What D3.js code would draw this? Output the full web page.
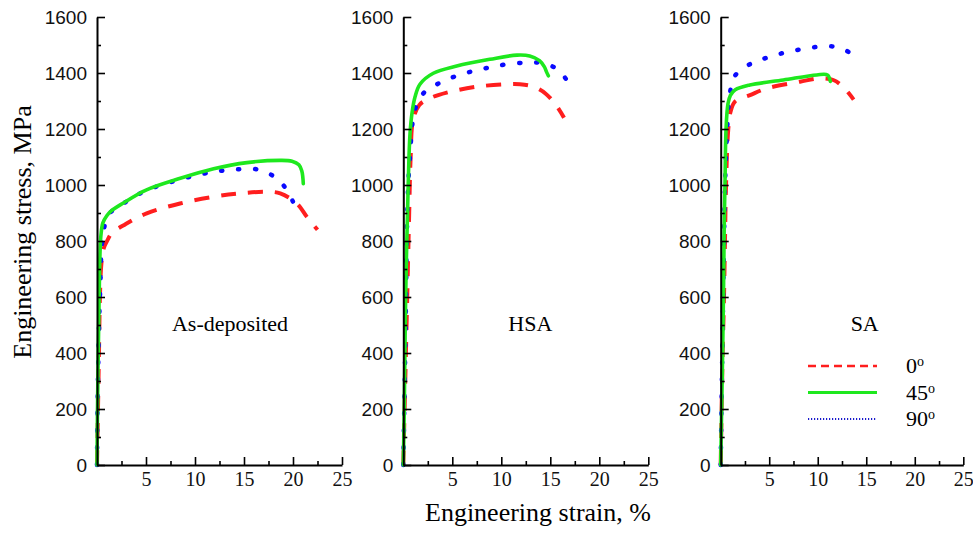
<!DOCTYPE html>
<html>
<head>
<meta charset="utf-8">
<script src="https://cdn.jsdelivr.net/npm/d3@7"></script>
<style>
  body { margin: 0; background: #fff; }
  svg { display: block; }
</style>
</head>
<body>
<div id="chart"></div>
<script>
// panel and series names
var panels = ["As-deposited", "HSA", "SA"];
var orientations = ["0", "45", "90"];

// tick values
var yMajorTicks = [0, 200, 400, 600, 800, 1000, 1200, 1400, 1600];
var yMinorTicks = [100, 300, 500, 700, 900, 1100, 1300, 1500];
var xMajorTicks = [5, 10, 15, 20, 25];
var xMinorTicks = [2.5, 7.5, 12.5, 17.5, 22.5];

// curves: [strain %, stress MPa]
var asDep0 = [[0,0],[0.1,200],[0.2,400],[0.3,600],[0.45,720],[0.7,775],[1.1,805],[1.5,828],[2.9,860],[5.07,899],[8.47,934],[11.9,958],[14.6,970],[17.3,976],[18.7,970],[20.4,934],[21.4,887],[22.5,840]];
var asDep45 = [[0,0],[0.05,200],[0.15,450],[0.22,600],[0.3,750],[0.4,820],[0.6,865],[1.0,890],[1.4,906],[2.7,936],[5.0,982],[8.5,1024],[11.9,1058],[15.3,1080],[18.7,1088],[19.9,1085],[20.6,1072],[20.9,1050],[21.05,1005]];
var asDep90 = [[0,0],[0.05,200],[0.15,400],[0.25,550],[0.35,650],[0.45,760],[0.68,836],[1.15,893],[2.7,934],[5.0,980],[8.5,1020],[10.7,1039],[12.5,1050],[14.4,1056],[16.3,1056],[17.8,1036],[19.0,1000],[20.0,940],[20.1,930]];

var hsa0 = [[0,0],[0.2,300],[0.4,600],[0.6,900],[0.75,1100],[1.0,1232],[1.64,1286],[2.72,1310],[4.43,1330],[7.49,1351],[10.55,1360],[11.9,1360],[13.3,1351],[14.5,1327],[15.7,1280],[16.4,1240]];
var hsa45 = [[0,0],[0.1,200],[0.24,600],[0.5,1000],[0.68,1180],[0.9,1260],[1.2,1315],[1.7,1360],[3.06,1399],[5.45,1425],[8.85,1449],[11.6,1464],[12.9,1461],[13.9,1444],[14.4,1422],[14.6,1405],[14.8,1390]];
var hsa90 = [[0,0],[0.1,200],[0.28,600],[0.35,800],[0.5,1000],[0.68,1100],[0.96,1226],[1.36,1286],[2.2,1333],[3.74,1365],[5.45,1390],[7.14,1407],[8.85,1420],[10.55,1431],[12.6,1437],[14.3,1435],[15.8,1411],[17.0,1357],[17.1,1350]];

var sa0 = [[0,0],[0.2,400],[0.34,600],[0.44,800],[0.55,1000],[0.78,1200],[1.0,1260],[1.47,1298],[3.02,1321],[4.74,1345],[8.18,1369],[10.2,1381],[11.6,1375],[12.6,1351],[13.7,1305]];
var sa45 = [[0,0],[0.1,200],[0.2,400],[0.3,650],[0.36,850],[0.44,1000],[0.55,1200],[0.75,1290],[1.0,1320],[1.5,1340],[3.0,1357],[6.45,1375],[9.9,1393],[11.0,1393],[11.3,1370]];
var sa90 = [[0,0],[0.1,250],[0.3,700],[0.45,1000],[0.62,1161],[0.96,1330],[1.47,1390],[3.2,1435],[4.9,1456],[6.6,1473],[8.35,1485],[10.2,1494],[12.1,1492],[13.5,1467],[13.6,1460]];

var curves = [[asDep0, asDep45, asDep90], [hsa0, hsa45, hsa90], [sa0, sa45, sa90]];

var svgWidth = 973;
var svgHeight = 533;

// left edge and width of every panel
var panelLeft = [97, 403.3, 720.7];
var panelWidth = [245, 245, 242.6];
var plotTop = 17, plotBottom = 465;

var styles = [
  {color: "#ff1e1e", width: 4, dash: "15,12", cap: "butt"},
  {color: "#1ee81e", width: 3.6, dash: null, cap: "round"},
  {color: "#0a0aff", width: 4.5, dash: "1.2,15.8", cap: "round"}
];

var svg = d3.select("#chart")
  .append("svg")
  .attr("width", svgWidth)
  .attr("height", svgHeight);

var yScale = d3.scaleLinear().domain([0, 1600]).range([plotBottom, plotTop]);

panels.forEach(function(name, p) {
  var xScale = d3.scaleLinear().domain([0, 25]).range([0, panelWidth[p]]);
  var g = svg.append("g").attr("transform", `translate(${panelLeft[p]}, 0)`);

  // curves
  var line = d3.line()
    .x(d => xScale(d[0]))
    .y(d => yScale(d[1]))
    .curve(d3.curveCatmullRom.alpha(0.5));

  [0, 2, 1].forEach(function(s) {
    var st = styles[s];
    g.append("path")
      .datum(curves[p][s])
      .attr("d", line)
      .attr("fill", "none")
      .attr("stroke", st.color)
      .attr("stroke-width", st.width)
      .attr("stroke-linecap", st.cap)
      .attr("stroke-linejoin", "round")
      .attr("stroke-dasharray", st.dash);
  });

  // y axis, ticks pointing inward
  var yAxis = g.append("g")
    .call(d3.axisLeft(yScale).tickValues(yMajorTicks).tickFormat(d3.format("d"))
      .tickSizeInner(-8).tickSizeOuter(0).tickPadding(10));
  g.append("g")
    .call(d3.axisLeft(yScale).tickValues(yMinorTicks).tickSizeInner(-4).tickSizeOuter(0).tickFormat(""))
    .select(".domain").remove();
  yAxis.selectAll("text")
    .attr("font-family", "Liberation Sans, Arial, sans-serif")
    .attr("font-size", "19px")
    .attr("fill", "#111");

  // x axis
  var xAxis = g.append("g")
    .attr("transform", `translate(0, ${plotBottom})`)
    .call(d3.axisBottom(xScale).tickValues(xMajorTicks).tickSizeInner(-8).tickSizeOuter(0).tickPadding(7));
  g.append("g")
    .attr("transform", `translate(0, ${plotBottom})`)
    .call(d3.axisBottom(xScale).tickValues(xMinorTicks).tickSizeInner(-4).tickSizeOuter(0).tickFormat(""))
    .select(".domain").remove();
  xAxis.selectAll("text")
    .attr("font-family", "Liberation Serif, Times New Roman, serif")
    .attr("font-size", "20px")
    .attr("fill", "#111");

  g.selectAll(".domain").attr("stroke-width", 2);
  g.selectAll(".tick line").attr("stroke-width", 1.6);

  // panel label
  g.append("text")
    .attr("x", [133, 127, 144][p])
    .attr("y", 331)
    .attr("text-anchor", "middle")
    .attr("font-family", "Liberation Serif, Times New Roman, serif")
    .attr("font-size", "22px")
    .text(name);
});

// legend in the last panel
var legend = svg.append("g");
orientations.forEach(function(o, i) {
  var st = styles[i];
  var ly = 366 + i * 26.5;
  legend.append("line")
    .attr("x1", 808).attr("x2", 877)
    .attr("y1", ly).attr("y2", ly)
    .attr("stroke", i == 2 ? "#1a1acc" : st.color)
    .attr("stroke-width", [2.4, 3, 2][i])
    .attr("stroke-dasharray", ["8,5", null, "1.2,1.8"][i]);
  var t = legend.append("text")
    .attr("x", 906)
    .attr("y", ly + 7)
    .attr("font-family", "Liberation Serif, Times New Roman, serif")
    .attr("font-size", "22px")
    .text(o);
  t.append("tspan")
    .attr("dy", -7)
    .attr("font-size", "14px")
    .text("o");
});

// axis titles
svg.append("text")
  .attr("transform", "rotate(-90)")
  .attr("x", -232)
  .attr("y", 31)
  .attr("text-anchor", "middle")
  .attr("font-family", "Liberation Serif, Times New Roman, serif")
  .attr("font-size", "26px")
  .text("Engineering stress, MPa");

svg.append("text")
  .attr("x", 538)
  .attr("y", 521)
  .attr("text-anchor", "middle")
  .attr("font-family", "Liberation Serif, Times New Roman, serif")
  .attr("font-size", "26px")
  .text("Engineering strain, %");
</script>
</body>
</html>
